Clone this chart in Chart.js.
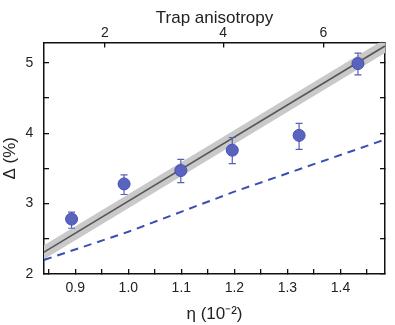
<!DOCTYPE html>
<html>
<head>
<meta charset="utf-8">
<script src="https://cdn.jsdelivr.net/npm/chart.js@4.4.1/dist/chart.umd.min.js"></script>
<style>
  body { margin: 0; background: #fff; }
  #wrap { width: 395px; height: 325px; }
</style>
</head>
<body>
<div id="wrap"><canvas id="chart" width="395" height="325"></canvas></div>
<script>
// Measured points (eta in 1e-2, Delta in %)
const etaData = [0.893, 0.992, 1.099, 1.196, 1.322, 1.433];
const deltaData = [2.78, 3.28, 3.47, 3.76, 3.97, 4.99];
const errHigh = [2.88, 3.41, 3.63, 3.94, 4.14, 5.14];
const errLow = [2.65, 3.13, 3.30, 3.57, 3.77, 4.83];

// Fit line with its shaded band
const fitEta = [0.841, 1.484];
const fitDelta = [2.31, 5.24];
const bandUpper = [2.41, 5.34];
const bandLower = [2.21, 5.14];

// Dashed theory curve
const theoryEta = [0.841, 1.0, 1.2, 1.484];
const theoryDelta = [2.20, 2.60, 3.17, 3.91];

// Axes
const xRange = [0.841, 1.484];
const yRange = [2, 5.29];
const xTicks = [0.85, 0.9, 0.95, 1.0, 1.05, 1.1, 1.15, 1.2, 1.25, 1.3, 1.35, 1.4, 1.45];
const yTicks = [2, 2.5, 3, 3.5, 4, 4.5, 5];
const anisoLabels = ['2', '4', '6'];
const anisoEta = [0.956, 1.179, 1.368];

const toPts = (xs, ys) => xs.map((x, i) => ({ x: x, y: ys[i] }));
const font = 'Liberation Sans, Arial, sans-serif';
const ink = '#222';

// Error bars drawn under the points
const errorBars = {
    id: 'errorBars',
    beforeDatasetDraw(chart, args) {
        if (chart.data.datasets[args.index].label !== 'data') return;
        const ctx = chart.ctx;
        const xs = chart.scales.x, ys = chart.scales.y;
        ctx.save();
        ctx.strokeStyle = '#5560b8';
        ctx.lineWidth = 1.2;
        etaData.forEach((e, i) => {
            const px = xs.getPixelForValue(e);
            const top = ys.getPixelForValue(errHigh[i]);
            const bot = ys.getPixelForValue(errLow[i]);
            ctx.beginPath();
            ctx.moveTo(px, top); ctx.lineTo(px, bot);
            ctx.moveTo(px - 3.5, top); ctx.lineTo(px + 3.5, top);
            ctx.moveTo(px - 3.5, bot); ctx.lineTo(px + 3.5, bot);
            ctx.stroke();
        });
        ctx.restore();
    }
};

const isMajor = (v, step) => Math.abs(v / step - Math.round(v / step)) < 1e-6;

const frame = { display: true, color: '#111', width: 1.5 };
const inwardGrid = { drawOnChartArea: false, drawTicks: true, tickLength: -5, color: '#111', lineWidth: 1.3 };

new Chart(document.getElementById('chart'), {
    type: 'scatter',
    data: {
        datasets: [
            {
                label: 'data',
                data: toPts(etaData, deltaData),
                backgroundColor: '#5a64bf',
                borderColor: '#4650b0',
                borderWidth: 1,
                pointRadius: 6,
                order: 0
            },
            {
                label: 'theory',
                data: toPts(theoryEta, theoryDelta),
                showLine: true,
                borderColor: '#3a4fb0',
                borderWidth: 2,
                borderDash: [8, 6],
                pointRadius: 0,
                order: 1
            },
            {
                label: 'fit',
                data: toPts(fitEta, fitDelta),
                showLine: true,
                borderColor: '#555',
                borderWidth: 1.6,
                pointRadius: 0,
                order: 2
            },
            {
                label: 'band upper',
                data: toPts(fitEta, bandUpper),
                showLine: true,
                borderWidth: 0,
                borderColor: 'rgba(0,0,0,0)',
                backgroundColor: '#c9c9c9',
                fill: '+1',
                pointRadius: 0,
                order: 3
            },
            {
                label: 'band lower',
                data: toPts(fitEta, bandLower),
                showLine: true,
                borderWidth: 0,
                borderColor: 'rgba(0,0,0,0)',
                pointRadius: 0,
                order: 4
            }
        ]
    },
    options: {
        responsive: false,
        animation: false,
        layout: { padding: { left: 0, right: 10, top: 0, bottom: 0 } },
        plugins: {
            legend: { display: false },
            tooltip: { enabled: false }
        },
        scales: {
            x: {
                type: 'linear',
                position: 'bottom',
                min: xRange[0],
                max: xRange[1],
                afterBuildTicks: (s) => { s.ticks = xTicks.map(v => ({ value: v })); },
                afterFit: (s) => { s.height = 51; },
                border: frame,
                grid: inwardGrid,
                ticks: {
                    autoSkip: false,
                    maxRotation: 0,
                    padding: 11,
                    color: ink,
                    font: { family: font, size: 14 },
                    callback: (v) => isMajor(v, 0.1) ? v.toFixed(1) : ''
                },
                title: {
                    display: true,
                    text: 'η (10⁻²)',
                    color: ink,
                    font: { family: font, size: 17 },
                    padding: { top: 0, bottom: 0 }
                }
            },
            x2: {
                type: 'linear',
                position: 'top',
                min: xRange[0],
                max: xRange[1],
                afterBuildTicks: (s) => { s.ticks = anisoEta.map(v => ({ value: v })); },
                afterFit: (s) => { s.height = 42.5; },
                border: frame,
                grid: inwardGrid,
                ticks: {
                    autoSkip: false,
                    maxRotation: 0,
                    padding: 5.5,
                    color: ink,
                    font: { family: font, size: 14 },
                    callback: (v, i) => anisoLabels[i]
                },
                title: {
                    display: true,
                    text: 'Trap anisotropy',
                    color: ink,
                    font: { family: font, size: 17 },
                    padding: { top: 8, bottom: 0 }
                }
            },
            y: {
                type: 'linear',
                position: 'left',
                min: yRange[0],
                max: yRange[1],
                afterBuildTicks: (s) => { s.ticks = yTicks.map(v => ({ value: v })); },
                afterFit: (s) => { s.width = 44; },
                border: frame,
                grid: inwardGrid,
                ticks: {
                    padding: 15.7,
                    color: ink,
                    font: { family: font, size: 14 },
                    callback: (v) => isMajor(v, 1) ? String(v) : ''
                },
                title: {
                    display: true,
                    text: 'Δ (%)',
                    color: ink,
                    font: { family: font, size: 17 },
                    padding: { top: 0, bottom: 0 }
                }
            },
            y2: {
                type: 'linear',
                position: 'right',
                min: yRange[0],
                max: yRange[1],
                afterBuildTicks: (s) => { s.ticks = yTicks.map(v => ({ value: v })); },
                afterFit: (s) => { s.width = 0; },
                border: frame,
                grid: inwardGrid,
                ticks: { display: false }
            }
        }
    },
    plugins: [errorBars]
});
</script>
</body>
</html>
